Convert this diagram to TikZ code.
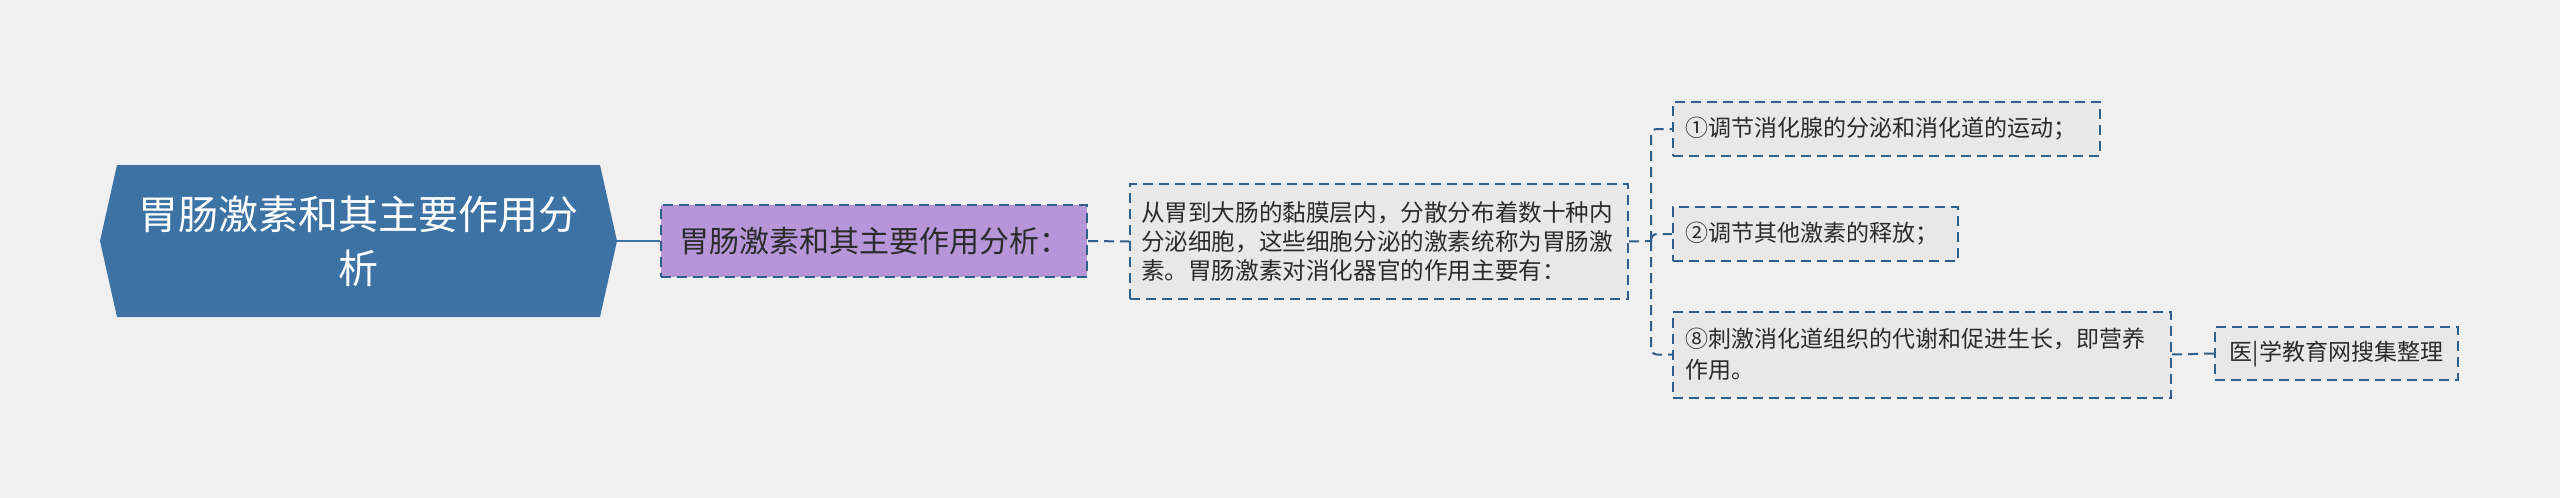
\documentclass[tikz,border=0pt]{standalone}
\usepackage{fontspec}
\setmainfont{Noto Sans CJK SC}
\usetikzlibrary{positioning}

\definecolor{bgcol}{HTML}{F0F0F0}
\definecolor{rootcol}{HTML}{3D72A4}
\definecolor{linecol}{HTML}{2F5F8C}
\definecolor{lilac}{HTML}{B696D9}
\definecolor{boxcol}{HTML}{E8E8E8}
\definecolor{txtcol}{HTML}{2B2B2B}

\tikzset{
    dashbox/.style={draw=linecol, line width=1pt, dash pattern=on 5pt off 3pt,
        fill=boxcol, text=txtcol, inner sep=0pt, align=left},
    link/.style={draw=linecol, line width=1pt, dash pattern=on 5pt off 3pt},
}

\begin{document}
\begin{tikzpicture}[x=0.5pt, y=-0.5pt]
    \fill[bgcol] (0,0) rectangle (2560,498);
    \useasboundingbox (0,0) rectangle (2560,498);

    % root
    \fill[rootcol] (100,241) -- (117,165) -- (600,165) -- (617,241) -- (600,317) -- (117,317) -- cycle;
    \node (root) [at={(358,241)}, text=white, align=center,
        font=\fontsize{20pt}{27pt}\selectfont] {胃肠激素和其主要作用分\\析};
    \coordinate (rootR) at (617,241);

    \node (l1) [dashbox, fill=lilac, align=center, minimum width=213pt, minimum height=36pt,
        at={(874,241)}, font=\fontsize{15pt}{18pt}\selectfont] {胃肠激素和其主要作用分析：};

    \node (l2) [dashbox, minimum width=249pt, minimum height=57.5pt, text width=238pt,
        at={(1379,241.5)}, font=\fontsize{11.8pt}{14.5pt}\selectfont]
        {从胃到大肠的黏膜层内，分散分布着数十种内\\分泌细胞，这些细胞分泌的激素统称为胃肠激\\素。胃肠激素对消化器官的作用主要有：};

    % children
    \node (c1) [dashbox, minimum width=213.5pt, minimum height=27pt, text width=201.5pt,
        at={(1886.5,129)}, font=\fontsize{11.5pt}{14pt}\selectfont] {①调节消化腺的分泌和消化道的运动；};
    \node (c2) [dashbox, minimum width=142.5pt, minimum height=27pt, text width=130.5pt,
        at={(1815.5,234)}, font=\fontsize{11.5pt}{14pt}\selectfont] {②调节其他激素的释放；};
    \node (c3) [dashbox, minimum width=249pt, minimum height=43pt, text width=237pt,
        at={(1922,354.5)}, font=\fontsize{11.5pt}{15.5pt}\selectfont] {⑧刺激消化道组织的代谢和促进生长，即营养\\作用。};

    \node (leaf) [dashbox, align=center, minimum width=121.5pt, minimum height=26.5pt,
        at={(2336.5,353.5)}, font=\fontsize{11.5pt}{14pt}\selectfont] {医|学教育网搜集整理};

    \coordinate (fork) at (1651,241);

    \draw[rootcol, line width=1pt] (rootR) -- (l1.west);
    \draw[link] (l1.east) -- (l2.west);
    \draw[link] (l2.east) -- (fork);
    \draw[link, rounded corners=3pt] (fork) |- (c1.west);
    \draw[link, rounded corners=3pt] (fork) |- (c2.west);
    \draw[link, rounded corners=3pt] (fork) |- (c3.west);
    \draw[link] (c3.east) -- (leaf.west);
\end{tikzpicture}
\end{document}
